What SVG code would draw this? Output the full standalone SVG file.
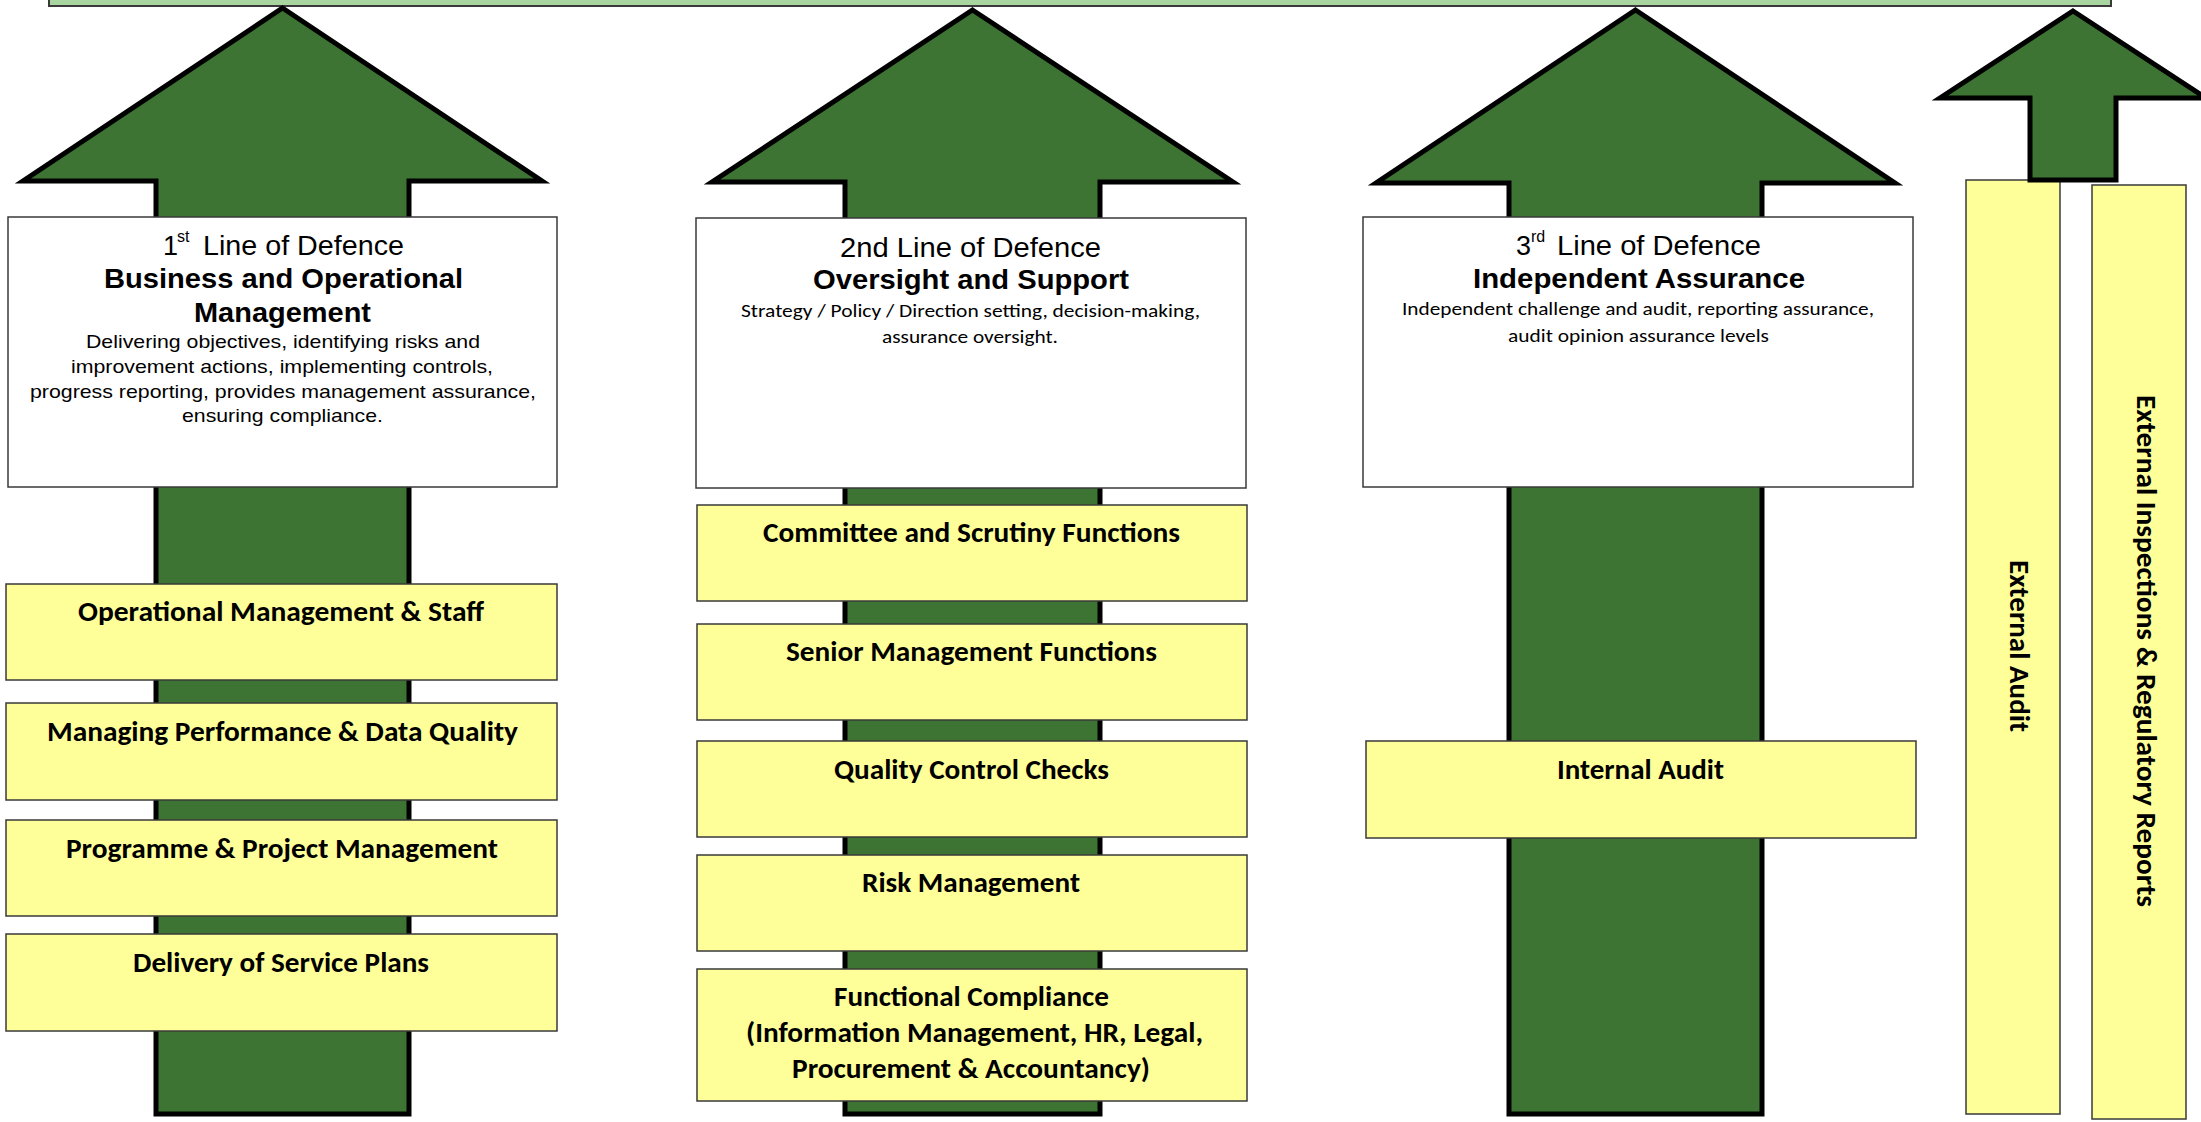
<svg xmlns="http://www.w3.org/2000/svg" width="2201" height="1122" viewBox="0 0 2201 1122">
<style>
.arrow{fill:#3D7433;stroke:#000;stroke-width:5;stroke-linejoin:miter}
.wbox{fill:#fff;stroke:#3a3a3a;stroke-width:1.5}
.ybox{fill:#FFFF99;stroke:#3a3a3a;stroke-width:1.5}
.hd{font-family:"Liberation Sans",Arial,sans-serif;font-size:27px;fill:#000}
.ttl{font-family:"Liberation Sans",Arial,sans-serif;font-size:27px;font-weight:bold;fill:#000}
.ds{font-family:"Liberation Sans",Arial,sans-serif;font-size:19px;fill:#000}
.cds{font-family:Carlito,Lato,"Liberation Sans",sans-serif;font-size:19px;fill:#000}
.lbl{font-family:Carlito,Lato,"Liberation Sans",sans-serif;font-size:28px;font-weight:bold;fill:#000}
.sup{font-family:"Liberation Sans",Arial,sans-serif;font-size:16px;fill:#000}
</style>
<rect id="banner" x="49" y="-10" width="2062" height="16" fill="#A9D5A0" stroke="#3a3a3a" stroke-width="2"/>
<g id="arrows">
<path class="arrow" d="M282.5,8 L542,181 L409,181 L409,1114 L156,1114 L156,181 L23,181 Z"/>
<path class="arrow" d="M972.5,10 L1233,182 L1100,182 L1100,1114 L845,1114 L845,182 L712,182 Z"/>
<path class="arrow" d="M1635.5,10 L1895,183 L1762,183 L1762,1114 L1509,1114 L1509,183 L1376,183 Z"/>
</g>
<g id="line1">
<rect class="wbox" x="8" y="217" width="549" height="270"/>
<text class="hd" x="163" y="255">1</text>
<text class="sup" x="177" y="242">st</text>
<text class="hd" x="203" y="255" textLength="201" lengthAdjust="spacingAndGlyphs">Line of Defence</text>
<text class="ttl" x="283.5" y="288" text-anchor="middle" textLength="359" lengthAdjust="spacingAndGlyphs">Business and Operational</text>
<text class="ttl" x="282.5" y="322" text-anchor="middle" textLength="177" lengthAdjust="spacingAndGlyphs">Management</text>
<text class="ds" x="283" y="348" text-anchor="middle" textLength="394" lengthAdjust="spacingAndGlyphs">Delivering objectives, identifying risks and</text>
<text class="ds" x="282" y="373" text-anchor="middle" textLength="422" lengthAdjust="spacingAndGlyphs">improvement actions, implementing controls,</text>
<text class="ds" x="283" y="398" text-anchor="middle" textLength="506" lengthAdjust="spacingAndGlyphs">progress reporting, provides management assurance,</text>
<text class="ds" x="282.5" y="422" text-anchor="middle" textLength="201" lengthAdjust="spacingAndGlyphs">ensuring compliance.</text>
</g>
<g id="op-mgmt"><rect class="ybox" x="6" y="584" width="551" height="96"/><text class="lbl" x="281" y="621" text-anchor="middle" textLength="406" lengthAdjust="spacingAndGlyphs">Operational Management &amp; Staff</text></g>
<g id="perf"><rect class="ybox" x="6" y="703" width="551" height="97"/><text class="lbl" x="282.5" y="741" text-anchor="middle" textLength="471" lengthAdjust="spacingAndGlyphs">Managing Performance &amp; Data Quality</text></g>
<g id="prog"><rect class="ybox" x="6" y="820" width="551" height="96"/><text class="lbl" x="282" y="858" text-anchor="middle" textLength="432" lengthAdjust="spacingAndGlyphs">Programme &amp; Project Management</text></g>
<g id="delivery"><rect class="ybox" x="6" y="934" width="551" height="97"/><text class="lbl" x="281" y="972" text-anchor="middle" textLength="296" lengthAdjust="spacingAndGlyphs">Delivery of Service Plans</text></g>
<g id="line2">
<rect class="wbox" x="696" y="218" width="550" height="270"/>
<text class="hd" x="970.5" y="257" text-anchor="middle" textLength="261" lengthAdjust="spacingAndGlyphs">2nd Line of Defence</text>
<text class="ttl" x="971" y="289" text-anchor="middle" textLength="316" lengthAdjust="spacingAndGlyphs">Oversight and Support</text>
<text class="cds" x="970.5" y="317" text-anchor="middle" textLength="459" lengthAdjust="spacingAndGlyphs">Strategy / Policy / Direction setting, decision-making,</text>
<text class="cds" x="970" y="343" text-anchor="middle" textLength="176" lengthAdjust="spacingAndGlyphs">assurance oversight.</text>
</g>
<g id="committee"><rect class="ybox" x="697" y="505" width="550" height="96"/><text class="lbl" x="971.5" y="542" text-anchor="middle" textLength="417" lengthAdjust="spacingAndGlyphs">Committee and Scrutiny Functions</text></g>
<g id="senior"><rect class="ybox" x="697" y="624" width="550" height="96"/><text class="lbl" x="971.5" y="661" text-anchor="middle" textLength="371" lengthAdjust="spacingAndGlyphs">Senior Management Functions</text></g>
<g id="quality"><rect class="ybox" x="697" y="741" width="550" height="96"/><text class="lbl" x="971.5" y="779" text-anchor="middle" textLength="275" lengthAdjust="spacingAndGlyphs">Quality Control Checks</text></g>
<g id="risk"><rect class="ybox" x="697" y="855" width="550" height="96"/><text class="lbl" x="971" y="892" text-anchor="middle" textLength="218" lengthAdjust="spacingAndGlyphs">Risk Management</text></g>
<g id="functional"><rect class="ybox" x="697" y="969" width="550" height="132"/>
<text class="lbl" x="971.5" y="1006" text-anchor="middle" textLength="275" lengthAdjust="spacingAndGlyphs">Functional Compliance</text>
<text class="lbl" x="974.5" y="1042" text-anchor="middle" textLength="457" lengthAdjust="spacingAndGlyphs">(Information Management, HR, Legal,</text>
<text class="lbl" x="971" y="1078" text-anchor="middle" textLength="358" lengthAdjust="spacingAndGlyphs">Procurement &amp; Accountancy)</text></g>
<g id="line3">
<rect class="wbox" x="1363" y="217" width="550" height="270"/>
<text class="hd" x="1516" y="255">3</text>
<text class="sup" x="1531" y="242">rd</text>
<text class="hd" x="1557" y="255" textLength="204" lengthAdjust="spacingAndGlyphs">Line of Defence</text>
<text class="ttl" x="1639" y="288" text-anchor="middle" textLength="332" lengthAdjust="spacingAndGlyphs">Independent Assurance</text>
<text class="cds" x="1638" y="315" text-anchor="middle" textLength="472" lengthAdjust="spacingAndGlyphs">Independent challenge and audit, reporting assurance,</text>
<text class="cds" x="1638.5" y="342" text-anchor="middle" textLength="261" lengthAdjust="spacingAndGlyphs">audit opinion assurance levels</text>
</g>
<g id="internal-audit"><rect class="ybox" x="1366" y="741" width="550" height="97"/><text class="lbl" x="1640.5" y="779" text-anchor="middle" textLength="167" lengthAdjust="spacingAndGlyphs">Internal Audit</text></g>
<g id="external-audit"><rect class="ybox" x="1966" y="180" width="94" height="934"/><text class="lbl" transform="translate(2010,646) rotate(90)" x="0" y="0" text-anchor="middle" textLength="172" lengthAdjust="spacingAndGlyphs">External Audit</text></g>
<g id="external-inspections"><rect class="ybox" x="2092" y="185" width="94" height="934"/><text class="lbl" transform="translate(2137,651) rotate(90)" x="0" y="0" text-anchor="middle" textLength="512" lengthAdjust="spacingAndGlyphs">External Inspections &amp; Regulatory Reports</text></g>
<g id="arrow-external">
<path class="arrow" d="M2073,11 L2206,98 L2116,98 L2116,180 L2030,180 L2030,98 L1940,98 Z"/>
</g>
</svg>
